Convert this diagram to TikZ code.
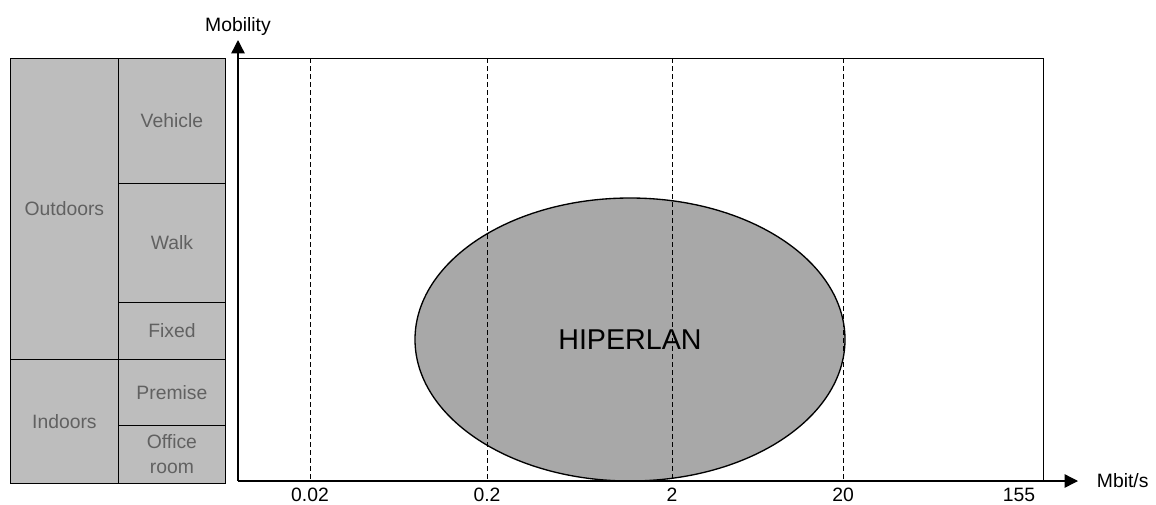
\documentclass[tikz,border=0pt]{standalone}
\usepackage{fontspec}
\setmainfont{Liberation Sans}
\usepackage{xcolor}
\usepackage{tikz}
\usetikzlibrary{positioning, arrows.meta, shapes.geometric}
\definecolor{cellgray}{gray}{0.74}
\definecolor{cellink}{gray}{0.38}
\definecolor{hipgray}{gray}{0.66}

\begin{document}
\begin{tikzpicture}[x=0.75pt, y=-0.75pt, node distance=2pt and 10pt]
        \tikzstyle{cell} = [rectangle, draw, line width=0.6pt, fill=cellgray, text=cellink, anchor=north west, inner sep=0pt, align=center, font=\fontsize{14.5}{19}\selectfont]
        \tikzstyle{lbl} = [inner sep=2pt, font=\fontsize{14.5}{17}\selectfont]
        \tikzstyle{axis} = [line width=1pt, -{Triangle[length=10pt, width=10pt]}]
        \tikzstyle{grid} = [line width=0.6pt, dash pattern=on 4pt off 2pt]
        \useasboundingbox (0,0) rectangle (1156,504);

        % left table
        \node [cell, minimum width=81pt, minimum height=225.75pt] (outdoors) at (10,58) {Outdoors};
        \node [cell, minimum width=81pt, minimum height=93pt] (indoors) at (10,359) {Indoors};
        \node [cell, minimum width=80.25pt, minimum height=93.75pt] (vehicle) at (118,58) {Vehicle};
        \node [cell, minimum width=80.25pt, minimum height=89.25pt] (walk) at (118,183) {Walk};
        \node [cell, minimum width=80.25pt, minimum height=42.75pt] (fixed) at (118,302) {Fixed};
        \node [cell, minimum width=80.25pt, minimum height=49.5pt] (premise) at (118,359) {Premise};
        \node [cell, minimum width=80.25pt, minimum height=43.5pt] (office) at (118,425) {Office\\room};

        % plot
        \coordinate (origin) at (238,481);
        \coordinate (ytip) at (238,40);
        \coordinate (xtip) at (1078,481);
        \coordinate (topl) at (238,58);
        \coordinate (topr) at (1043,58);
        \coordinate (botr) at (1043,481);

        \node [ellipse, draw, line width=1pt, fill=hipgray, inner sep=0pt, minimum width=322.5pt, minimum height=212.25pt, font=\fontsize{21.5}{24}\selectfont] (hiperlan) at (630,339.5) {HIPERLAN};

        \foreach \x/\val/\nm in {310/0.02/a, 487/0.2/b, 672/2/c, 843/20/d} {
            \draw [grid] (\x,58) -- (\x,481);
            \node [lbl] (tick\nm) at (\x,495) {\val};
        }
        \node [lbl] (ticke) at (1019,495) {155};

        \draw [line width=0.6pt] (topl) -- (topr) -- (botr);
        \draw [axis] (origin) -- (ytip);
        \draw [axis] (origin) -- (xtip);

        \node [lbl, above=1pt of ytip] (mobility) {Mobility};
        \node [lbl, right=12pt of xtip] (mbit) {Mbit/s};
    \end{tikzpicture}
\end{document}
